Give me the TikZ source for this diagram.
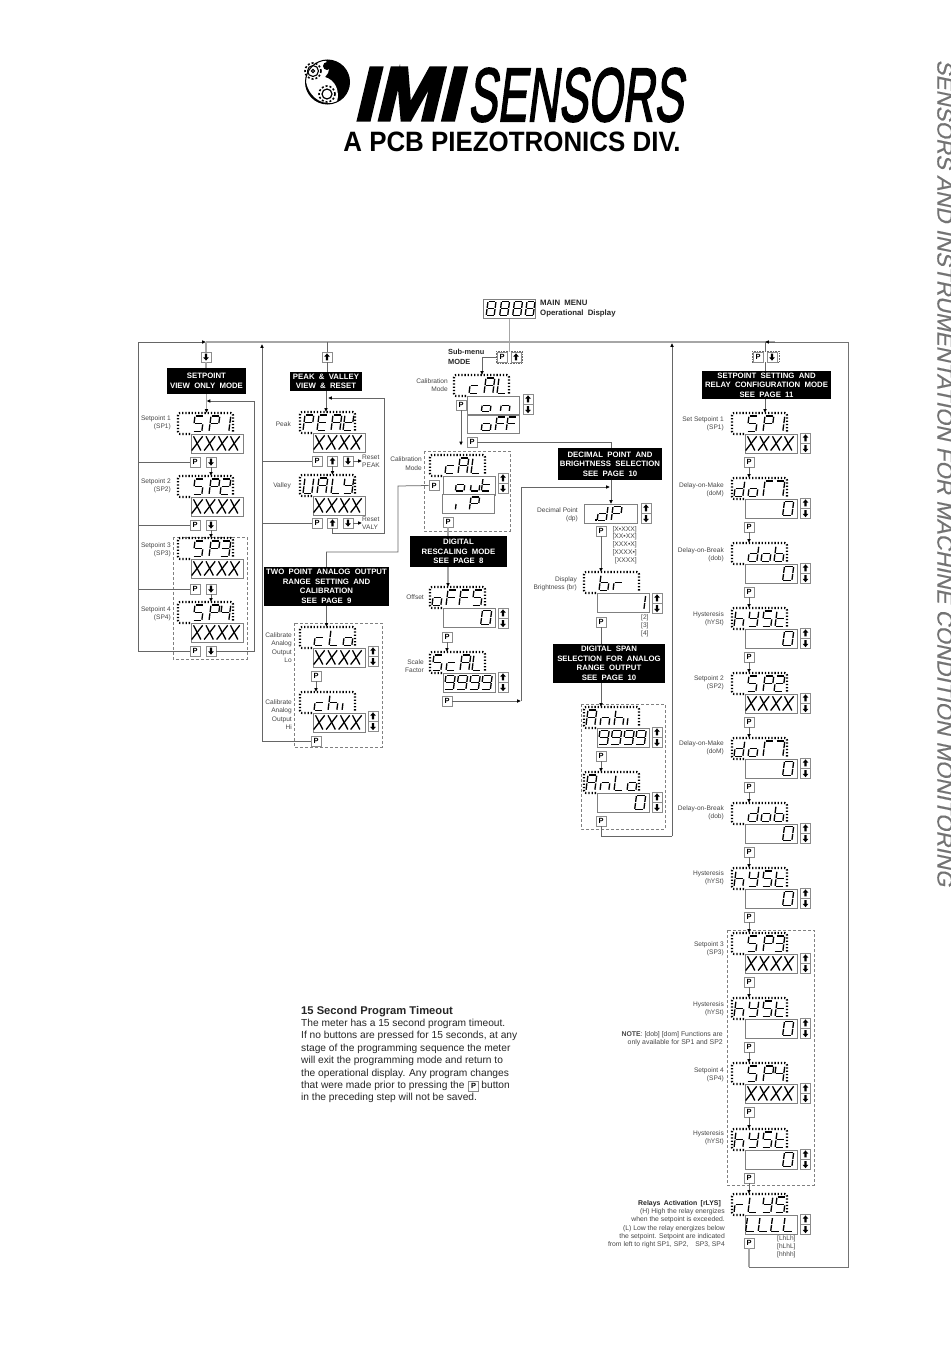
\documentclass[tikz,border=0pt]{standalone}
\usepackage{fontspec}
\setmainfont{Liberation Sans}
\newfontfamily\imifont[FakeBold=4,FakeSlant=0.24]{Liberation Sans Bold}
\newfontfamily\senfont[FakeBold=2.5,FakeSlant=0.22]{Liberation Sans}
\newfontfamily\sidefont[FakeSlant=0.2,FakeBold=.4]{Liberation Sans}
\usetikzlibrary{arrows.meta,calc}
\newcounter{lb}
\tikzset{
 sg/.style={line width=1.3pt,black,line cap=butt},
 btnbox/.style={draw=black!45,fill=white,line width=.8pt,minimum size=10pt,inner sep=0pt,font=\fontsize{7.5}{8}\selectfont\bfseries},
 frm/.style={minimum width=55pt,minimum height=21pt,inner sep=0pt,anchor=north west},
 lowbox/.style={draw=black!50,fill=white,line width=.8pt,inner sep=0pt,anchor=north west,minimum width=52pt,minimum height=19pt},
 dotsf/.style={black,line width=2.1pt,dash pattern=on 1.3pt off 1.9pt,rounded corners=2pt},
 dashbox/.style={draw=black!50,line width=.6pt,dash pattern=on 3pt off 2pt},
 conn/.style={draw=black!60,line width=.75pt},
 bus/.style={draw=black!35,line width=1.5pt},
 thinbus/.style={draw=black!55,line width=.9pt},
 tip/.style={-{Latex[length=3.8pt,width=3.8pt,color=black]}},
 lbl/.style={anchor=east,align=right,inner sep=0pt,text=black!72,font=\fontsize{6.6}{8.3}\selectfont},
 lbll/.style={anchor=west,align=left,inner sep=0pt,text=black!72,font=\fontsize{6.6}{7.9}\selectfont},
 blk/.style={fill=black,text=white,align=center,inner sep=0pt,font=\fontsize{7.8}{9.5}\selectfont\bfseries,execute at begin node={\spaceskip=.55em\relax}},
}
\newcommand\sA{\draw[sg] (.08,0)--(.92,0);}
\newcommand\sB{\draw[sg] (1,.05)--(1,.46);}
\newcommand\sC{\draw[sg] (1,.54)--(1,.95);}
\newcommand\sD{\draw[sg] (.08,1)--(.92,1);}
\newcommand\sE{\draw[sg] (0,.54)--(0,.95);}
\newcommand\sF{\draw[sg] (0,.05)--(0,.46);}
\newcommand\sG{\draw[sg] (.08,.5)--(.92,.5);}
\expandafter\def\csname LtS\endcsname{\sA\sF\sG\sC\sD}
\expandafter\def\csname LtP\endcsname{\sA\sB\sE\sF\sG}
\expandafter\def\csname Lt1\endcsname{\sB\sC}
\expandafter\def\csname Lt2\endcsname{\sA\sB\sG\sE\sD}
\expandafter\def\csname Lt3\endcsname{\sA\sB\sG\sC\sD}
\expandafter\def\csname Lt4\endcsname{\sF\sG\sB\sC}
\expandafter\def\csname Lt0\endcsname{\sA\sB\sC\sD\sE\sF}
\expandafter\def\csname Lt8\endcsname{\sA\sB\sC\sD\sE\sF\sG}
\expandafter\def\csname Lt9\endcsname{\sA\sB\sC\sD\sF\sG}
\expandafter\def\csname LtE\endcsname{\sA\sF\sG\sE\sD}
\expandafter\def\csname LtA\endcsname{\sA\sB\sC\sE\sF\sG}
\expandafter\def\csname LtK\endcsname{\sF\sE\sD\sG\sB}
\expandafter\def\csname LtU\endcsname{\sF\sE\sD\sC\sB}
\expandafter\def\csname LtL\endcsname{\sF\sE\sD}
\expandafter\def\csname LtY\endcsname{\sF\sG\sB\sC\sD}
\expandafter\def\csname LtF\endcsname{\sA\sF\sG\sE}
\expandafter\def\csname Ltc\endcsname{\sG\sE\sD}
\expandafter\def\csname Lto\endcsname{\sG\sC\sD\sE}
\expandafter\def\csname Ltn\endcsname{\sG\sC\sE}
\expandafter\def\csname Lth\endcsname{\sF\sE\sG\sC}
\expandafter\def\csname Lti\endcsname{\sE}
\expandafter\def\csname Ltt\endcsname{\sF\sG\sE\sD}
\expandafter\def\csname Ltu\endcsname{\sC\sD\sE}
\expandafter\def\csname Ltr\endcsname{\sG\sE}
\expandafter\def\csname Ltd\endcsname{\sB\sC\sD\sE\sG}
\expandafter\def\csname Ltb\endcsname{\sF\sE\sD\sC\sG}
\expandafter\def\csname LtG\endcsname{\sA\sF\sE}
\expandafter\def\csname LtT\endcsname{\sA\sB\sC}
\expandafter\def\csname LtX\endcsname{\draw[sg] (0,0)--(1,1);\draw[sg] (1,0)--(0,1);}
\newcommand\digs[5]{\edef\digl{#5}\foreach \dO/\dL in \digl {\begin{scope}[shift={(#1+\dO,#2)},xslant=.13,xscale=#3,yscale=#4]\csname Lt\dL\endcsname\end{scope}}}
\newcommand\pr[5]{%
 \node[frm] (#1) at (#2,#3) {};
 \draw[dotsf] (#2+12,#3+21) -- (#2,#3+21) -- (#2,#3) -- (#2+55,#3) -- (#2+55,#3+20);
 \digs{#2}{#3+3}{8.8}{15.5}{#4}
 \node[lowbox] (#1-b) at (#2+13,#3+21) {};
 \digs{#2+13}{#3+23.3}{9.2}{14.2}{#5}}
\newcommand\btnP[3]{\node[btnbox] (#1) at (#2,#3) {P};}
\newcommand\btnU[3]{\node[btnbox] (#1) at (#2,#3) {};\fill[black] (#2,#3-3.6)--(#2-2.9,#3-.3)--(#2-1.2,#3-.3)--(#2-1.2,#3+3.4)--(#2+1.2,#3+3.4)--(#2+1.2,#3-.3)--(#2+2.9,#3-.3)--cycle;}
\newcommand\btnD[3]{\node[btnbox] (#1) at (#2,#3) {};\fill[black] (#2,#3+3.6)--(#2-2.9,#3+.3)--(#2-1.2,#3+.3)--(#2-1.2,#3-3.4)--(#2+1.2,#3-3.4)--(#2+1.2,#3+.3)--(#2+2.9,#3+.3)--cycle;}
\newcommand\ud[3]{\btnU{#1u}{#2}{#3}\btnD{#1d}{#2}{#3+10.5}}
\newcommand\lab[3]{\stepcounter{lb}\node[lbl,name=lab\arabic{lb}] at (#1,#2) {#3};}
\newcommand\labl[3]{\stepcounter{lb}\node[lbll,name=lab\arabic{lb}] at (#1,#2) {#3};}
\newcommand\blk[6]{\node[blk,minimum width={#4-#2},minimum height={#5-#3}] (#1) at ({(#2+#4)/2},{(#3+#5)/2}) {#6};}
\newcommand\XX{2.5/X,15/X,27.5/X,39.5/X}
\newcommand\ZZ{39.5/0}
\begin{document}
\begin{tikzpicture}[x=1pt,y=-1pt]
\useasboundingbox (0,0) rectangle (950,1370);
\fill[white] (0,0) rectangle (950,1370);
% ---- logo
\fill[black] (327.5,82) circle (22);
\fill[white] (306,82) .. controls (306,70) and (312,60) .. (325,60) .. controls (331,66) and (330,72) .. (325,77) .. controls (335,80) and (340,90) .. (337,102) .. controls (325,106) and (310,100) .. (306,82) -- cycle;
\draw[black,line width=1pt] (327.5,82) circle (22);
\draw[black,line width=1.1pt] (313,71) circle (5.5);
\draw[black,line width=1pt] (313,71) circle (1.6);
\draw[black,line width=1.6pt,dash pattern=on 2pt off 2pt] (313,71) circle (8);
\fill[black] (327,66) circle (4);
\draw[black,line width=1.2pt] (327,94) circle (5);
\draw[black,line width=1.6pt,dash pattern=on 2pt off 2pt] (327,94) circle (8);
\node[inner sep=0pt] (imi) at (406,94) {\imifont\fontsize{76}{76}\selectfont\scalebox{1.0}[1]{IMI}};
\node[inner sep=0pt] (sensors) at (575.5,95) {\senfont\fontsize{76}{76}\selectfont\scalebox{.58}[1]{SENSORS}};
\node[inner sep=0pt] (pcb) at (512,142) {\fontsize{28}{28}\selectfont\bfseries\scalebox{.925}[1]{A PCB PIEZOTRONICS DIV.}};
\node[rotate=-90,inner sep=0pt,text=black!55] (side) at (945,473) {\sidefont\fontsize{22}{22}\selectfont\scalebox{1.017}[1]{SENSORS AND INSTRUMENTATION FOR MACHINE CONDITION MONITORING}};
% ---- dashed groups
\draw[dashbox] (173,537) rectangle (247,659);
\draw[dashbox] (294,623) rectangle (382,747);
\draw[dashbox] (424,451) rectangle (510,531);
\draw[dashbox] (581,704) rectangle (665,829);
\draw[dashbox] (727,930) rectangle (814,1185);
% ---- named corners
\coordinate (jL) at (206,342);
\coordinate (j2) at (327,342);
\coordinate (jM) at (508,342);
\coordinate (jR) at (765,342);
\coordinate (jRa) at (775,342);
\coordinate (busR) at (848,342);
\coordinate (busBR) at (848,1267);
\coordinate (busB) at (749,1267);
\coordinate (leftT) at (138,342);
\coordinate (rA) at (254,401);
\coordinate (rB) at (206.5,401);
\coordinate (v2T) at (262,344);
\coordinate (c1) at (384,533);
\coordinate (c2) at (384,398);
\coordinate (c3) at (328,398);
\coordinate (a1) at (398,486);
\coordinate (a2) at (398,552);
\coordinate (e1) at (461,445.5);
\coordinate (e2) at (611,442);
\coordinate (g1) at (521,701);
\coordinate (g2) at (521,487);
\coordinate (g3) at (610,487);
\coordinate (h1) at (601,836);
\coordinate (h2) at (672,836);
\coordinate (h3) at (672,343);
\coordinate (m1) at (482,357);
% ---- column 1
\btnD{s0}{206}{357}
\blk{sbox}{167}{368}{246}{394}{SETPOINT\\VIEW ONLY MODE}
\pr{sp1}{178}{413}{17/S,33/P,44/1}{\XX}
\pr{sp2}{178}{476}{17/S,33/P,44/2}{\XX}
\pr{sp3}{178}{538}{17/S,33/P,44/3}{\XX}
\pr{sp4}{178}{602}{17/S,33/P,44/4}{\XX}
\btnP{sp1p}{195}{462}\btnD{sp1d}{211}{462}
\btnP{sp2p}{195}{525}\btnD{sp2d}{211}{525}
\btnP{sp3p}{195}{589}\btnD{sp3d}{211}{589}
\btnP{sp4p}{195}{651}\btnD{sp4d}{211}{651}
\lab{171}{423}{Setpoint 1\\(SP1)}
\lab{171}{486}{Setpoint 2\\(SP2)}
\lab{171}{550}{Setpoint 3\\(SP3)}
\lab{171}{614}{Setpoint 4\\(SP4)}
% ---- column 2
\btnU{k0}{327}{357}
\blk{kbox}{290}{372}{362}{391}{PEAK \& VALLEY\\VIEW \& RESET}
\pr{pk}{300}{412}{5/P,19/E,33/A,45/K}{\XX}
\pr{vy}{300}{475}{5/U,19/A,33/L,45/Y}{\XX}
\btnP{pkp}{317}{461}\btnU{pku}{332.5}{461}\btnD{pkd}{348}{461}
\btnP{vyp}{317}{523}\btnU{vyu}{332.5}{523}\btnD{vyd}{348}{523}
\node[lbll] (rsp) at (362,461) {Reset\\PEAK};
\node[lbll] (rsv) at (362,523) {Reset\\VALY};
\lab{291}{424}{Peak}
\lab{291}{486}{Valley}
\blk{two}{264}{567}{389}{606}{TWO POINT ANALOG OUTPUT\\RANGE SETTING AND\\CALIBRATION\\SEE PAGE 9}
\pr{cl}{300}{627}{16/c,31/L,45/o}{\XX}
\pr{ch}{300}{692}{16/c,30/h,44/i}{\XX}
\ud{cl}{373}{651}
\ud{ch}{373}{716}
\btnP{clp}{316}{676}
\btnP{chp}{316}{741}
\lab{292}{647.5}{Calibrate\\Analog\\Output\\Lo}
\lab{292}{714.5}{Calibrate\\Analog\\Output\\Hi}
% ---- main display and submenu
\node[lowbox,minimum width=52pt,minimum height=19pt] (main) at (483,299) {};
\digs{483}{301.5}{8}{14}{5/8,18.5/8,31.5/8,44/8}
\stepcounter{lb}\node[inner sep=0pt,anchor=west,align=left,font=\fontsize{7.8}{9.4}\selectfont\bfseries,execute at begin node={\spaceskip=.55em\relax},text=black!85,name=lab\arabic{lb}] at (540,308.5) {MAIN MENU\\Operational Display};
\stepcounter{lb}\node[inner sep=0pt,anchor=west,align=left,font=\fontsize{7.4}{9.7}\selectfont\bfseries,text=black!85,name=lab\arabic{lb}] at (448,357) {Sub-menu\\MODE};
\draw[draw=black!60,line width=.6pt,densely dotted] (496,351) rectangle (522,363);
\btnP{mp}{502}{357}\btnU{mu}{516}{357}
\pr{cal}{454}{375}{17/c,32/A,45/L}{}
\draw[draw=black!50,line width=.8pt] (467,414) -- (519,414);
\node[lowbox,fill=none,minimum height=19pt] (calb2) at (467,414) {};
\digs{467}{399}{8.8}{12.5}{16/o,35/n}
\digs{467}{417}{9}{13.5}{16/o,30/F,41/F}
\ud{cal}{528}{399}
\btnP{calp}{461}{405}
\btnP{calq}{472}{442}
\lab{448}{385}{Calibration\\Mode}
\pr{cao}{430}{455}{17/c,30/A,43/L}{}
\node[lowbox,minimum height=19pt] (cao2) at (442,494) {};
\digs{442}{478.5}{8.6}{12.5}{15/o,30/u,41/t}
\digs{442}{497}{8.6}{13}{15/i,29/P}
\ud{cao}{503}{478}
\btnP{caop}{434}{485.5}
\btnP{caoq}{448}{522}
\lab{422}{463.5}{Calibration\\Mode}
\blk{digi}{410}{536}{507}{567}{DIGITAL\\RESCALING MODE\\SEE PAGE 8}
\pr{of}{430}{587}{4/o,18/F,31/F,44/S}{\ZZ}
\pr{sc}{430}{652}{4/S,18/c,32/A,44/L}{3/9,15.5/9,28/9,40/9}
\ud{of}{503}{613}
\ud{sc}{503}{677}
\btnP{ofp}{447}{637}
\btnP{scp}{447}{701}
\lab{424}{597}{Offset}
\lab{424}{666}{Scale\\Factor}
% ---- decimal point column
\blk{dec}{558}{448}{662}{480}{DECIMAL POINT AND\\BRIGHTNESS SELECTION\\SEE PAGE 10}
\node[lowbox,minimum width=53pt] (dp) at (584,504) {};
\digs{584}{506.5}{9}{14}{15/d,29/P}
\fill[black] (595.3,519) rectangle (597,520.6);
\ud{dp}{646}{508}
\btnP{dpp}{601}{531}
\lab{578}{515}{Decimal Point\\(dp)}
\stepcounter{lb}\node[anchor=north east,align=right,inner sep=0pt,text=black!72,font=\fontsize{6.8}{7.75}\selectfont,name=lab\arabic{lb}] at (637,526) {[X•XXX]\\{}[XX•XX]\\{}[XXX•X]\\{}[XXXX•]\\{}[XXXX]};
\pr{br}{584}{572}{17/b,31/r}{39.5/1}
\ud{br}{657}{598}
\btnP{brp}{601}{622}
\lab{577}{583.5}{Display\\Brightness (br)}
\labl{641}{626}{[2]\\{}[3]\\{}[4]}
\blk{span}{553}{644}{665}{683}{DIGITAL SPAN\\SELECTION FOR ANALOG\\RANGE OUTPUT\\SEE PAGE 10}
\pr{ah}{584}{707}{4/A,18/n,32/h,45/i}{3/9,15.5/9,28/9,40/9}
\pr{al}{584}{772}{4/A,18/n,32/L,45/o}{\ZZ}
\ud{ah}{657}{732}
\ud{al}{657}{797}
\btnP{ahp}{601}{756}
\btnP{alp}{601}{821}
% ---- right column
\draw[draw=black!60,line width=.6pt,densely dotted] (752,351) rectangle (779,362);
\btnP{rt}{758}{357}\btnD{rd}{772}{357}
\blk{rbox}{702}{371}{831}{399}{SETPOINT SETTING AND\\RELAY CONFIGURATION MODE\\SEE PAGE 11}
\newcommand\rc[4]{\pr{r#1}{732}{#2}{#3}{#4}\ud{r#1}{805.5}{#2+25}\btnP{rp#1}{749}{#2+49}}
\rc{0}{413}{17/S,33/P,44/1}{\XX}
\rc{1}{478}{4/d,18/o,33/G,44/T}{\ZZ}
\rc{2}{543}{18/d,31/o,44/b}{\ZZ}
\rc{3}{608}{4/h,18/Y,32/S,45/t}{\ZZ}
\rc{4}{673}{17/S,33/P,44/2}{\XX}
\rc{5}{738}{4/d,18/o,33/G,44/T}{\ZZ}
\rc{6}{803}{18/d,31/o,44/b}{\ZZ}
\rc{7}{868}{4/h,18/Y,32/S,45/t}{\ZZ}
\rc{8}{933}{17/S,33/P,44/3}{\XX}
\rc{9}{998}{4/h,18/Y,32/S,45/t}{\ZZ}
\rc{10}{1063}{17/S,33/P,44/4}{\XX}
\rc{11}{1129}{4/h,18/Y,32/S,45/t}{\ZZ}
\rc{12}{1194}{4/r,18/L,32/Y,45/S}{2.5/L,15/L,27.5/L,40/L}
\lab{724}{424}{Set Setpoint 1\\(SP1)}
\lab{724}{490}{Delay-on-Make\\(doM)}
\lab{724}{555}{Delay-on-Break\\(dob)}
\lab{724}{618.5}{Hysteresis\\(hYSt)}
\lab{724}{683}{Setpoint 2\\(SP2)}
\lab{724}{747.5}{Delay-on-Make\\(doM)}
\lab{724}{813}{Delay-on-Break\\(dob)}
\lab{724}{877.5}{Hysteresis\\(hYSt)}
\lab{724}{949}{Setpoint 3\\(SP3)}
\lab{724}{1009}{Hysteresis\\(hYSt)}
\lab{724}{1075}{Setpoint 4\\(SP4)}
\lab{724}{1137.5}{Hysteresis\\(hYSt)}
\stepcounter{lb}\node[lbl,font=\fontsize{6.9}{8.3}\selectfont,name=lab\arabic{lb}] at (723,1039) {\textbf{NOTE}: [dob] [dom] Functions are\\only available for SP1 and SP2};
\stepcounter{lb}\node[anchor=east,inner sep=0pt,text=black!85,font=\fontsize{6.9}{8}\selectfont\bfseries,execute at begin node={\spaceskip=.5em\relax},name=lab\arabic{lb}] at (721,1204) {Relays Activation [rLYS]};
\stepcounter{lb}\node[lbl,font=\fontsize{6.8}{8.3}\selectfont,name=lab\arabic{lb}] at (725,1228.5) {(H) High the relay energizes\\when the setpoint is exceeded.\\(L) Low the relay energizes below\\the setpoint. Setpoint are indicated\\from left to right SP1, SP2,\quad SP3, SP4};
\labl{777}{1247}{[LhLh]\\{}[hLhL]\\{}[hhhh]}
% ---- timeout note
\stepcounter{lb}\node[anchor=west,inner sep=0pt,font=\fontsize{11.2}{12}\selectfont\bfseries,text=black!85,name=lab\arabic{lb}] at (301,1012) {15 Second Program Timeout};
\stepcounter{lb}\node[anchor=north west,align=left,inner sep=0pt,font=\fontsize{10.2}{12.35}\selectfont,text=black!85,name=lab\arabic{lb}] at (301,1019) {The meter has a 15 second program timeout.\\If no buttons are pressed for 15 seconds, at any\\stage of the programming sequence the meter\\will exit the programming mode and return to\\the operational display. Any program changes\\that were made prior to pressing the\hspace{17pt}button\\in the preceding step will not be saved.};
\btnP{tp}{473.5}{1086}
% ---- connectors: buses
\draw[bus] (jL) -- (jRa);
\draw[bus] (rp12.south) -- (busB);
\draw[thinbus] (busB) -- (busBR) -- (busR) -- (jRa);
\draw[conn,tip] (jRa) -- (jR);
\draw[conn] (sp4p.west) -| (leftT);
\draw[conn,tip] (leftT) -- (jL);
\draw[conn] (sp1p.west) -- (sp1p.west -| leftT);
\draw[conn] (sp2p.west) -- (sp2p.west -| leftT);
\draw[conn] (sp3p.west) -- (sp3p.west -| leftT);
% column 1
\draw[bus] (jL) -- (s0.north);
\draw[bus] (s0.south) -- (s0.south |- sbox.north);
\draw[bus,tip] (sbox.south) -- (sbox.south |- sp1.north);
\draw[conn,tip] (sp1d.south) -- (sp1d.south |- sp2.north);
\draw[conn,tip] (sp2d.south) -- (sp2d.south |- sp3.north);
\draw[conn,tip] (sp3d.south) -- (sp3d.south |- sp4.north);
\draw[conn] (sp4d.east) -| (rA);
\draw[conn,tip] (rA) -- (rB);
% column 2
\draw[conn] (j2) -- (k0.north);
\draw[conn] (k0.south) -- (k0.south |- kbox.north);
\draw[conn,tip] (kbox.south) -- (kbox.south |- pk.north);
\draw[conn,tip] (pkd.east) -- (rsp.west);
\draw[conn,tip] (vyd.east) -- (rsv.west);
\draw[conn,tip] (pku.south) -- (pku.south |- vy.north);
\draw[conn] (vyu.south) |- (c1) -- (c2);
\draw[conn,tip] (c2) -- (c3);
\draw[conn,tip] (chp.west) -| (v2T);
\draw[conn] (pkp.west) -- (pkp.west -| v2T);
\draw[conn] (vyp.west) -- (vyp.west -| v2T);
\draw[conn] (caop.west) -- (a1) -- (a2) -| (two.north);
\draw[conn,tip] (two.south) -- (two.south |- cl.north);
\draw[conn,tip] (clp.south) -- (clp.south |- ch.north);
% middle
\draw[bus] (main.south) -- (mp.north -| main.south);
\draw[conn] (mp.west) -- (m1);
\draw[conn,tip] (m1) -- (m1 |- cal.north);
\draw[conn,tip] (calp.south) -- (e1);
\draw[conn] (calq.east) -- (e2) -- (dec.north -| e2);
\draw[conn,tip] (dec.south -| e2) -- (e2 |- dp.north);
\draw[conn,tip] (scp.east) -- (g1);
\draw[conn] (g1) -- (g2);
\draw[conn,tip] (g2) -- (g3);
\draw[bus] (caoq.south) -- (caoq.south |- digi.north);
\draw[bus,tip] (digi.south -| caoq.south) -- (caoq.south |- of.north);
\draw[conn,tip] (ofp.south) -- (ofp.south |- sc.north);
\draw[conn,tip] (dpp.south) -- (dpp.south |- br.north);
\draw[conn] (brp.south) -- (brp.south |- span.north);
\draw[conn,tip] (span.south -| brp.south) -- (brp.south |- ah.north);
\draw[conn,tip] (ahp.south) -- (ahp.south |- al.north);
\draw[conn] (alp.south) -- (h1) -- (h2);
\draw[conn,tip] (h2) -- (h3);
% right column
\draw[conn] (jR) -- (jR |- rt.north);
\draw[conn] (jR |- rt.south) -- (jR |- rbox.north);
\draw[conn,tip] (jR |- rbox.south) -- (jR |- r0.north);
\foreach \pa/\pb in {0/1,1/2,2/3,3/4,4/5,5/6,6/7,7/8,8/9,9/10,10/11,11/12}
  \draw[conn,tip] (rp\pa.south) -- (rp\pa.south |- r\pb.north);
\end{tikzpicture}
\end{document}
